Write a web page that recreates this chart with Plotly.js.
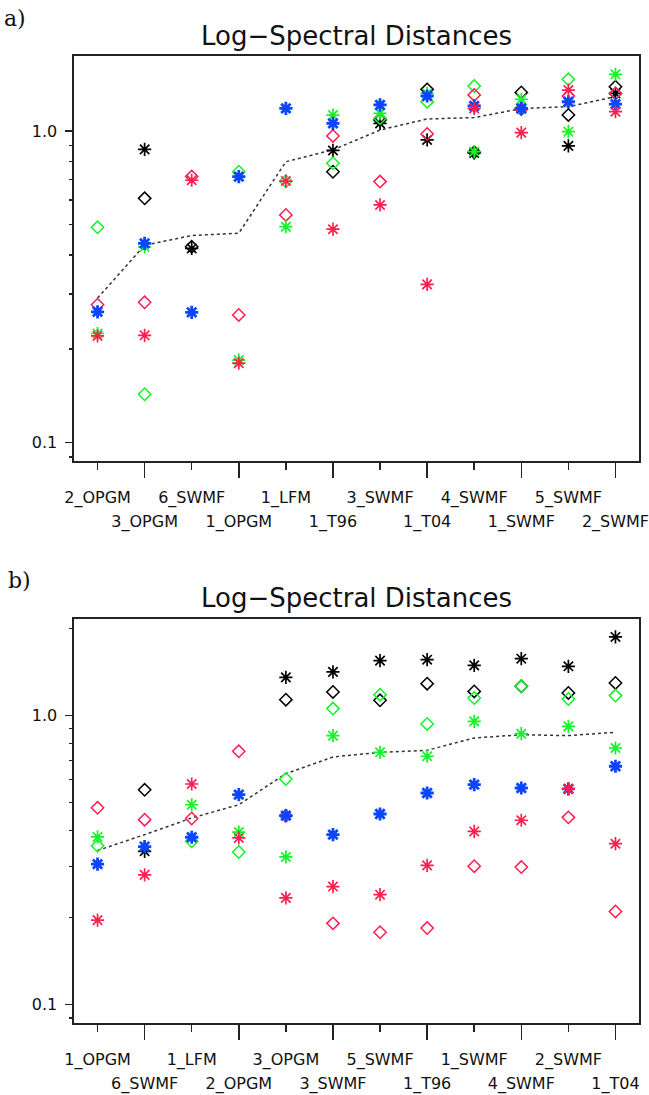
<!DOCTYPE html>
<html>
<head>
<meta charset="utf-8">
<script src="https://cdn.plot.ly/plotly-3.0.1.min.js"></script>
<style>html,body{margin:0;padding:0;background:#fff;}#chart{width:649px;height:1095px;}</style>
</head>
<body>
<div id="chart"></div>
<script>
// ---------- Data ----------
const catsA = ['2_OPGM','3_OPGM','6_SWMF','1_OPGM','1_LFM','1_T96','3_SWMF','1_T04','4_SWMF','1_SWMF','5_SWMF','2_SWMF'];
const catsB = ['1_OPGM','6_SWMF','1_LFM','2_OPGM','3_OPGM','3_SWMF','5_SWMF','1_T96','1_SWMF','4_SWMF','2_SWMF','1_T04'];

// panel a
const blackStarA = [null, 0.873, 0.420, null, null, 0.866, 1.058, 0.936, 0.850, 1.180, 0.896, 1.320];
const blackDiaA  = [null, 0.608, 0.425, null, null, 0.740, 1.085, 1.360, 0.855, 1.330, 1.126, 1.387];
const greenDiaA  = [0.491, 0.143, null, 0.740, 0.690, 0.788, 1.098, 1.240, 1.394, 1.180, 1.465, 1.320];
const greenStarA = [0.224, 0.425, null, 0.184, 0.493, 1.125, 1.140, 1.320, 0.858, 1.264, 0.995, 1.520];
const blueStarA  = [0.263, 0.436, 0.262, 0.714, 1.182, 1.058, 1.212, 1.295, 1.203, 1.182, 1.241, 1.220];
const redDiaA    = [0.277, 0.282, 0.714, 0.257, 0.538, 0.964, 0.688, 0.978, 1.305, 1.175, 1.295, 1.320];
const redStarA   = [0.220, 0.221, 0.695, 0.180, 0.691, 0.484, 0.579, 0.322, 1.182, 0.988, 1.353, 1.153];
const meanA      = [0.291, 0.430, 0.462, 0.470, 0.797, 0.870, 1.007, 1.093, 1.104, 1.180, 1.197, 1.288];

// panel b
const blackStarB = [null, 0.339, null, null, 1.353, 1.413, 1.546, 1.557, 1.488, 1.570, 1.477, 1.866];
const blackDiaB  = [null, 0.553, null, null, 1.133, 1.205, 1.127, 1.287, 1.210, 1.260, 1.195, 1.294];
const greenDiaB  = [0.354, null, 0.367, 0.337, 0.603, 1.055, 1.179, 0.934, 1.148, 1.260, 1.139, 1.170];
const greenStarB = [0.380, null, 0.491, 0.395, 0.324, 0.851, 0.745, 0.722, 0.953, 0.864, 0.916, 0.771];
const blueStarB  = [0.306, 0.352, 0.379, 0.532, 0.450, 0.387, 0.456, 0.539, 0.576, 0.561, 0.557, 0.667];
const redDiaB    = [0.479, 0.436, 0.440, 0.751, 0.450, 0.191, 0.178, 0.184, 0.301, 0.299, 0.444, 0.210];
const redStarB   = [0.196, 0.281, 0.579, 0.377, 0.234, 0.256, 0.240, 0.303, 0.397, 0.434, 0.557, 0.360];
const meanB      = [0.341, 0.387, 0.442, 0.491, 0.629, 0.718, 0.745, 0.757, 0.835, 0.857, 0.851, 0.874];

const titleText = 'Log\u2212Spectral Distances';
const yTickVals = [0.1, 1];
const yTickText = ['0.1', '1.0'];

// ---------- Styles ----------
const BLACK = '#000000', GREEN = '#10f428', BLUE = '#0a46ff', RED = '#ff1f4f';
const FONT = 'DejaVu Sans';

function pos(cats){ return cats.map((c,i)=>i+1); }
function star(x, y, color, xa, ya, w){
  return {type:'scatter', mode:'markers', x:x, y:y, xaxis:xa, yaxis:ya, hoverinfo:'skip',
    marker:{symbol:'asterisk-open', size:11, color:color, line:{color:color, width:w||1.7}}};
}
function dia(x, y, color, xa, ya){
  return {type:'scatter', mode:'markers', x:x, y:y, xaxis:xa, yaxis:ya, hoverinfo:'skip',
    marker:{symbol:'diamond-open', size:9.5, color:color, line:{color:color, width:1.5}}};
}
function meanLine(x, y, xa, ya){
  return {type:'scatter', mode:'lines', x:x, y:y, xaxis:xa, yaxis:ya, hoverinfo:'skip',
    line:{color:'#333', width:1.5, dash:'dot'}};
}
function panel(cats, bs, bd, gd, gs, bl, rd, rs, mn, xa, ya){
  const x = pos(cats);
  return [
    meanLine(x, mn, xa, ya),
    star(x, bs, BLACK, xa, ya),
    dia(x, bd, BLACK, xa, ya),
    dia(x, gd, GREEN, xa, ya),
    dia(x, rd, RED, xa, ya),
    star(x, gs, GREEN, xa, ya),
    star(x, bl, BLUE, xa, ya, 2.8),
    star(x, rs, RED, xa, ya)
  ];
}

const traces = []
  .concat(panel(catsA, blackStarA, blackDiaA, greenDiaA, greenStarA, blueStarA, redDiaA, redStarA, meanA, 'x', 'y'))
  .concat(panel(catsB, blackStarB, blackDiaB, greenDiaB, greenStarB, blueStarB, redDiaB, redStarB, meanB, 'x2', 'y2'));
// empty traces so the overlay tick axes (even categories) are drawn
traces.push({type:'scatter', mode:'markers', x:[], y:[], xaxis:'x3', yaxis:'y', hoverinfo:'skip'});
traces.push({type:'scatter', mode:'markers', x:[], y:[], xaxis:'x4', yaxis:'y2', hoverinfo:'skip'});

function oddEven(cats, parity){
  const v = [], t = [];
  cats.forEach((c,i)=>{ if ((i % 2) === parity){ v.push(i+1); t.push(c); } });
  return {v, t};
}
const LINEC = '#222';
function xMain(cats, anchor){
  const oe = oddEven(cats, 0);
  return {anchor:anchor, domain:[0,1], range:[0.5,12.5], tickmode:'array', tickvals:oe.v, ticktext:oe.t,
    ticks:'outside', ticklen:7, tickwidth:1.5, tickcolor:LINEC, showline:true, mirror:true, linewidth:1.6,
    linecolor:LINEC, showgrid:false, zeroline:false, ticklabelstandoff:14, ticklabeloverflow:'allow',
    tickfont:{family:FONT, size:16, color:'#111'}};
}
function xEven(cats, overlay, anchor){
  const oe = oddEven(cats, 1);
  return {overlaying:overlay, anchor:anchor, range:[0.5,12.5], tickmode:'array', tickvals:oe.v, ticktext:oe.t,
    ticks:'outside', ticklen:16, tickwidth:1.5, tickcolor:LINEC, showline:false, showgrid:false, zeroline:false,
    ticklabelstandoff:30, ticklabeloverflow:'allow', tickfont:{family:FONT, size:16, color:'#111'}};
}
function yAxis(range, domain, anchor, minorVals){
  return {type:'log', anchor:anchor, domain:domain, range:range, tickmode:'array', tickvals:yTickVals, ticktext:yTickText,
    ticks:'outside', ticklen:7, tickwidth:1.5, tickcolor:LINEC, showline:true, mirror:true, linewidth:1.6,
    linecolor:LINEC, showgrid:false, zeroline:false, ticklabelstandoff:5,
    tickfont:{family:FONT, size:16, color:'#111'},
    minor:{tickmode:'array', tickvals:minorVals, ticks:'outside', ticklen:3, tickwidth:1.3, tickcolor:LINEC, showgrid:false}};
}
const minorA = [0.09,0.2,0.3,0.4,0.5,0.6,0.7,0.8,0.9];
const minorB = [0.09,0.2,0.3,0.4,0.5,0.6,0.7,0.8,0.9,2];

const layout = {
  width:649, height:1095, margin:{l:74, r:10, t:56, b:72},
  paper_bgcolor:'#fff', plot_bgcolor:'#fff', showlegend:false,
  font:{family:FONT, color:'#111'},
  xaxis: xMain(catsA, 'y'),
  xaxis3: xEven(catsA, 'x', 'y'),
  yaxis: yAxis([-1.0587, 0.2406], [0.5812, 1], 'x', minorA),
  xaxis2: xMain(catsB, 'y2'),
  xaxis4: xEven(catsB, 'x2', 'y2'),
  yaxis2: yAxis([-1.0633, 0.333], [0, 0.4178], 'x2', minorB),
  annotations:[
    {text:titleText, xref:'paper', yref:'paper', x:0.5, y:1.0207, xanchor:'center', yanchor:'middle', showarrow:false,
     font:{family:FONT, size:26, color:'#111'}},
    {text:titleText, xref:'paper', yref:'paper', x:0.5, y:0.4395, xanchor:'center', yanchor:'middle', showarrow:false,
     font:{family:FONT, size:26, color:'#111'}},
    {text:'a)', xref:'paper', yref:'paper', x:-0.128, y:1.0383, xanchor:'left', yanchor:'middle', showarrow:false,
     font:{family:'DejaVu Serif', size:22, color:'#111'}},
    {text:'b)', xref:'paper', yref:'paper', x:-0.12, y:0.4571, xanchor:'left', yanchor:'middle', showarrow:false,
     font:{family:'DejaVu Serif', size:22, color:'#111'}}
  ]
};

Plotly.newPlot('chart', traces, layout, {staticPlot:true, displayModeBar:false});
</script>
</body>
</html>
